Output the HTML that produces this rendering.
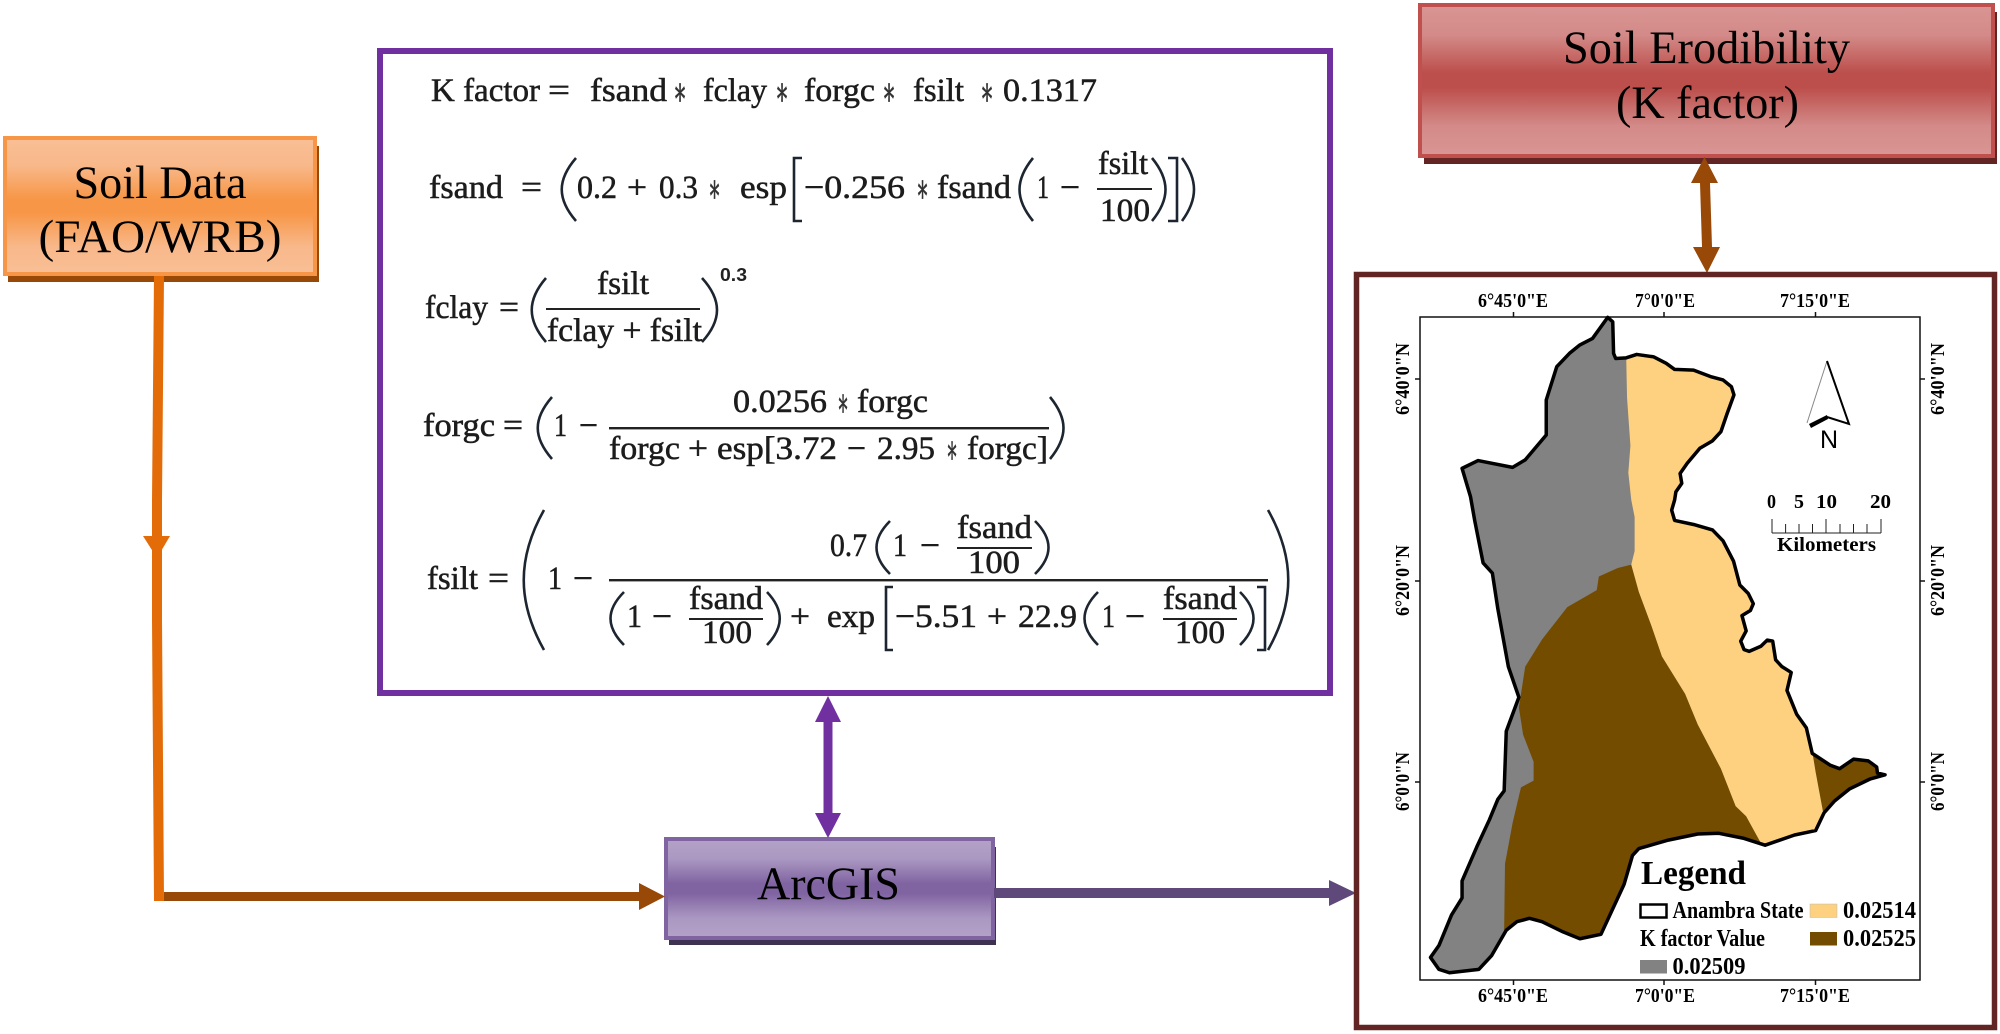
<!DOCTYPE html>
<html><head><meta charset="utf-8"><style>
html,body{margin:0;padding:0;background:#fff}
svg{display:block}
.b{font-family:"Liberation Serif",serif;font-size:47px;fill:#000;text-anchor:middle}
.f{font-family:"Liberation Serif","DejaVu Serif",serif;font-size:33px;fill:#1c1c1c;stroke:#1c1c1c;stroke-width:.55px}
.s{fill:#333;stroke:#333;font-size:40px;transform:translateY(4px)}
.d{fill:none;stroke:#1c2530;stroke-width:2.6}
.m{font-family:"Liberation Serif",serif;font-weight:bold;font-size:20px;fill:#000}
.l{font-family:"Liberation Serif",serif;font-weight:bold;font-size:24px;fill:#000}
</style></head><body>
<svg xmlns="http://www.w3.org/2000/svg" width="2000" height="1034" viewBox="0 0 2000 1034">
<defs>
<linearGradient id="go" x1="0" y1="0" x2="0" y2="1"><stop offset="0" stop-color="#f9bf95"/><stop offset=".2" stop-color="#f8b88a"/><stop offset=".45" stop-color="#f79646"/><stop offset=".55" stop-color="#f79646"/><stop offset=".8" stop-color="#f8b88a"/><stop offset="1" stop-color="#f9bf95"/></linearGradient>
<linearGradient id="gr" x1="0" y1="0" x2="0" y2="1"><stop offset="0" stop-color="#d99694"/><stop offset=".2" stop-color="#d38a88"/><stop offset=".45" stop-color="#bc4f4c"/><stop offset=".55" stop-color="#bc4f4c"/><stop offset=".8" stop-color="#d38a88"/><stop offset="1" stop-color="#d99694"/></linearGradient>
<linearGradient id="gp" x1="0" y1="0" x2="0" y2="1"><stop offset="0" stop-color="#b3a2c7"/><stop offset=".2" stop-color="#ab98c2"/><stop offset=".45" stop-color="#8064a2"/><stop offset=".55" stop-color="#8064a2"/><stop offset=".8" stop-color="#ab98c2"/><stop offset="1" stop-color="#b3a2c7"/></linearGradient>
<clipPath id="cp"><polygon points="636,-537 648,-524 650,-431 655,-416 680,-418 705,-428 745,-421 775,-402 795,-384 840,-382 880,-363 910,-353 930,-333 936,-309 920,-255 905,-201 885,-174 855,-152 825,-108 808,-78 812,-49 798,-24 795,0 788,30 795,60 840,72 885,88 910,120 935,180 950,250 970,275 982,305 975,325 955,340 965,385 952,415 960,440 972,445 1000,430 1015,412 1028,415 1035,470 1050,490 1072,507 1062,560 1085,630 1108,670 1122,745 1165,780 1187,790 1220,762 1255,767 1275,785 1277,803 1295,808 1260,820 1210,850 1175,885 1150,920 1130,972 1080,985 1010,1015 960,995 900,980 850,982 780,1000 710,1025 695,1045 675,1130 620,1277 570,1290 530,1270 480,1240 450,1230 420,1240 395,1265 360,1340 330,1380 260,1390 235,1380 215,1345 235,1310 265,1220 290,1170 290,1120 325,1020 355,940 375,880 390,855 395,680 425,580 400,490 375,320 362,215 340,185 320,60 310,-10 290,-93 328,-116 410,-96 440,-118 490,-191 490,-294 515,-392 545,-431 570,-456 600,-475"/></clipPath>
</defs>

<!-- Soil Data -->
<rect x="8" y="146" width="311" height="136" fill="#984807"/>
<rect x="5" y="138" width="310" height="136" fill="url(#go)" stroke="#f79646" stroke-width="4"/>
<text class="b" x="160" y="198" textLength="173" lengthAdjust="spacingAndGlyphs" style="text-anchor:start" transform="translate(-86.5,0)">Soil Data</text>
<text class="b" x="160" y="252" textLength="243" lengthAdjust="spacingAndGlyphs" style="text-anchor:start" transform="translate(-121.5,0)">(FAO/WRB)</text>

<!-- K factor box -->
<rect x="1424" y="12" width="573" height="152" fill="#632523"/>
<rect x="1420" y="5" width="573" height="151" fill="url(#gr)" stroke="#c0504d" stroke-width="4"/>
<text class="b" x="1563" y="63" textLength="287" lengthAdjust="spacingAndGlyphs" style="text-anchor:start">Soil Erodibility</text>
<text class="b" x="1616" y="118" textLength="183" lengthAdjust="spacingAndGlyphs" style="text-anchor:start">(K factor)</text>

<!-- ArcGIS box -->
<rect x="669" y="847" width="327" height="98" fill="#3f3151"/>
<rect x="666" y="839" width="327" height="99" fill="url(#gp)" stroke="#8064a2" stroke-width="4"/>
<text class="b" x="757" y="899" textLength="143" lengthAdjust="spacingAndGlyphs" style="text-anchor:start">ArcGIS</text>

<!-- Connectors -->
<polygon points="154,276 164,276 162,500 162,620 164,901 154,901 152,620 152,500" fill="#e36c09"/>
<polygon points="143,536 170,536 157,558" fill="#e36c09"/>
<rect x="164" y="892" width="476" height="9" fill="#984807"/>
<polygon points="639,883 665,896.5 639,910" fill="#984807"/>
<rect x="994" y="888" width="336" height="10" fill="#5f497a"/>
<polygon points="1329,880 1356,893 1329,906" fill="#5f497a"/>
<polygon points="828,696 841,722 832.5,722 832.5,813 841,813 828,838 815,813 823.5,813 823.5,722 815,722" fill="#7030a0"/>
<polygon points="1704.5,157 1718,183 1710,183 1712,247 1720,247 1707,273 1693,247 1702,247 1700,183 1691,183" fill="#984807"/>

<!-- Formula box -->
<rect x="380" y="51" width="950" height="642" fill="#fff" stroke="#7030a0" stroke-width="6"/>

<!-- Line 1 -->
<text class="f" x="431" y="101" textLength="109" lengthAdjust="spacingAndGlyphs">K factor</text>
<text class="f" x="548" y="101" textLength="22" lengthAdjust="spacingAndGlyphs">=</text>
<text class="f" x="590" y="101" textLength="77" lengthAdjust="spacingAndGlyphs">fsand</text>
<text class="f s" x="673" y="101" textLength="14" lengthAdjust="spacingAndGlyphs">∗</text>
<text class="f" x="703" y="101" textLength="64" lengthAdjust="spacingAndGlyphs">fclay</text>
<text class="f s" x="775" y="101" textLength="14" lengthAdjust="spacingAndGlyphs">∗</text>
<text class="f" x="804" y="101" textLength="71" lengthAdjust="spacingAndGlyphs">forgc</text>
<text class="f s" x="882" y="101" textLength="14" lengthAdjust="spacingAndGlyphs">∗</text>
<text class="f" x="913" y="101" textLength="51" lengthAdjust="spacingAndGlyphs">fsilt</text>
<text class="f s" x="980" y="101" textLength="14" lengthAdjust="spacingAndGlyphs">∗</text>
<text class="f" x="1003" y="101" textLength="94" lengthAdjust="spacingAndGlyphs">0.1317</text>

<!-- Line 2 -->
<text class="f" x="429" y="198" textLength="74" lengthAdjust="spacingAndGlyphs">fsand</text>
<text class="f" x="521" y="198" textLength="21" lengthAdjust="spacingAndGlyphs">=</text>
<text class="f" x="577" y="198" textLength="40" lengthAdjust="spacingAndGlyphs">0.2</text>
<text class="f" x="627" y="198" textLength="20" lengthAdjust="spacingAndGlyphs">+</text>
<text class="f" x="659" y="198" textLength="39" lengthAdjust="spacingAndGlyphs">0.3</text>
<text class="f s" x="708" y="198" textLength="13" lengthAdjust="spacingAndGlyphs">∗</text>
<text class="f" x="740" y="198" textLength="47" lengthAdjust="spacingAndGlyphs">esp</text>
<text class="f" x="804" y="198" textLength="101" lengthAdjust="spacingAndGlyphs">−0.256</text>
<text class="f s" x="916" y="198" textLength="13" lengthAdjust="spacingAndGlyphs">∗</text>
<text class="f" x="937" y="198" textLength="74" lengthAdjust="spacingAndGlyphs">fsand</text>
<text class="f" x="1037" y="198" textLength="12" lengthAdjust="spacingAndGlyphs">1</text>
<text class="f" x="1060" y="198" textLength="20" lengthAdjust="spacingAndGlyphs">−</text>
<text class="f" x="1098" y="174" textLength="50" lengthAdjust="spacingAndGlyphs">fsilt</text>
<rect x="1097" y="188" width="55" height="2" fill="#222"/>
<text class="f" x="1100" y="221" textLength="50" lengthAdjust="spacingAndGlyphs">100</text>
<path class="d" d="M576 158C557 180 557 199 576 221M1033 158C1015 180 1015 199 1033 221M1152 158C1170 180 1170 199 1152 221M1182 158C1198 180 1198 199 1182 221M802 158H794V221H802M1168 158H1177V221H1168"/>

<!-- Line 3 -->
<text class="f" x="425" y="318" textLength="63" lengthAdjust="spacingAndGlyphs">fclay</text>
<text class="f" x="499" y="318" textLength="20" lengthAdjust="spacingAndGlyphs">=</text>
<text class="f" x="597" y="294" textLength="52" lengthAdjust="spacingAndGlyphs">fsilt</text>
<rect x="546" y="308" width="154" height="2" fill="#222"/>
<text class="f" x="547" y="341" textLength="155" lengthAdjust="spacingAndGlyphs">fclay + fsilt</text>
<text x="720" y="281" textLength="27" lengthAdjust="spacingAndGlyphs" style="font-family:'Liberation Sans',sans-serif;font-size:18px;font-weight:bold;fill:#222">0.3</text>
<path class="d" d="M546 278C527 300 527 320 546 342M702 278C722 300 722 320 702 342"/>

<!-- Line 4 -->
<text class="f" x="423" y="436" textLength="72" lengthAdjust="spacingAndGlyphs">forgc</text>
<text class="f" x="503" y="436" textLength="20" lengthAdjust="spacingAndGlyphs">=</text>
<text class="f" x="554" y="436" textLength="13" lengthAdjust="spacingAndGlyphs">1</text>
<text class="f" x="579" y="436" textLength="19" lengthAdjust="spacingAndGlyphs">−</text>
<text class="f" x="733" y="412" textLength="94" lengthAdjust="spacingAndGlyphs">0.0256</text>
<text class="f s" x="837" y="412" textLength="12" lengthAdjust="spacingAndGlyphs">∗</text>
<text class="f" x="857" y="412" textLength="71" lengthAdjust="spacingAndGlyphs">forgc</text>
<rect x="609" y="427" width="440" height="2.4" fill="#222"/>
<text class="f" x="609" y="459" textLength="71" lengthAdjust="spacingAndGlyphs">forgc</text>
<text class="f" x="688" y="459" textLength="20" lengthAdjust="spacingAndGlyphs">+</text>
<text class="f" x="717" y="459" textLength="120" lengthAdjust="spacingAndGlyphs">esp[3.72</text>
<text class="f" x="847" y="459" textLength="19" lengthAdjust="spacingAndGlyphs">−</text>
<text class="f" x="877" y="459" textLength="58" lengthAdjust="spacingAndGlyphs">2.95</text>
<text class="f s" x="946" y="459" textLength="12" lengthAdjust="spacingAndGlyphs">∗</text>
<text class="f" x="967" y="459" textLength="81" lengthAdjust="spacingAndGlyphs">forgc]</text>
<path class="d" d="M552 397C533 419 533 437 552 459M1050 397C1068 419 1068 437 1050 459"/>

<!-- Line 5 -->
<text class="f" x="427" y="589" textLength="51" lengthAdjust="spacingAndGlyphs">fsilt</text>
<text class="f" x="488" y="589" textLength="21" lengthAdjust="spacingAndGlyphs">=</text>
<text class="f" x="548" y="589" textLength="14" lengthAdjust="spacingAndGlyphs">1</text>
<text class="f" x="573" y="589" textLength="20" lengthAdjust="spacingAndGlyphs">−</text>
<rect x="609" y="579" width="659" height="2.4" fill="#222"/>
<text class="f" x="830" y="556" textLength="37" lengthAdjust="spacingAndGlyphs">0.7</text>
<text class="f" x="893" y="556" textLength="14" lengthAdjust="spacingAndGlyphs">1</text>
<text class="f" x="920" y="556" textLength="20" lengthAdjust="spacingAndGlyphs">−</text>
<text class="f" x="957" y="538" textLength="75" lengthAdjust="spacingAndGlyphs">fsand</text>
<rect x="957" y="547" width="75" height="2" fill="#222"/>
<text class="f" x="968" y="573" textLength="52" lengthAdjust="spacingAndGlyphs">100</text>
<text class="f" x="627" y="627" textLength="15" lengthAdjust="spacingAndGlyphs">1</text>
<text class="f" x="652" y="627" textLength="20" lengthAdjust="spacingAndGlyphs">−</text>
<text class="f" x="689" y="609" textLength="74" lengthAdjust="spacingAndGlyphs">fsand</text>
<rect x="689" y="618" width="74" height="2" fill="#222"/>
<text class="f" x="702" y="643" textLength="50" lengthAdjust="spacingAndGlyphs">100</text>
<text class="f" x="790" y="627" textLength="20" lengthAdjust="spacingAndGlyphs">+</text>
<text class="f" x="827" y="627" textLength="48" lengthAdjust="spacingAndGlyphs">exp</text>
<text class="f" x="895" y="627" textLength="82" lengthAdjust="spacingAndGlyphs">−5.51</text>
<text class="f" x="987" y="627" textLength="20" lengthAdjust="spacingAndGlyphs">+</text>
<text class="f" x="1018" y="627" textLength="59" lengthAdjust="spacingAndGlyphs">22.9</text>
<text class="f" x="1102" y="627" textLength="13" lengthAdjust="spacingAndGlyphs">1</text>
<text class="f" x="1125" y="627" textLength="20" lengthAdjust="spacingAndGlyphs">−</text>
<text class="f" x="1163" y="609" textLength="74" lengthAdjust="spacingAndGlyphs">fsand</text>
<rect x="1163" y="618" width="74" height="2" fill="#222"/>
<text class="f" x="1175" y="643" textLength="50" lengthAdjust="spacingAndGlyphs">100</text>
<path class="d" d="M544 510C517 558 517 602 544 650M1268 510C1295 558 1295 602 1268 650M890 521C872 539 872 556 890 574M1035 521C1053 539 1053 556 1035 574M624 592C606 610 606 627 624 645M767 592C784 610 784 627 767 645M893 587H886V650H893M1098 592C1080 610 1080 627 1098 645M1240 592C1258 610 1258 627 1240 645M1257 587H1265V650H1257"/>

<!-- Map frame -->
<rect x="1356.5" y="274.5" width="638" height="753" fill="#fff" stroke="#632523" stroke-width="5.5"/>
<rect x="1420" y="317" width="500" height="663" fill="#fff" stroke="#111" stroke-width="1.5"/>
<path d="M1513.5 317V312M1664 317V312M1815.5 317V312M1513.5 980V985M1664 980V985M1815.5 980V985M1420 379H1415M1420 581H1415M1420 782H1415M1920 379H1925M1920 581H1925M1920 782H1925" stroke="#111" stroke-width="1.5"/>

<g>
<text class="m" x="1478" y="307" textLength="70" lengthAdjust="spacingAndGlyphs">6°45'0"E</text>
<text class="m" x="1635" y="307" textLength="60" lengthAdjust="spacingAndGlyphs">7°0'0"E</text>
<text class="m" x="1780" y="307" textLength="70" lengthAdjust="spacingAndGlyphs">7°15'0"E</text>
<text class="m" x="1478" y="1002" textLength="70" lengthAdjust="spacingAndGlyphs">6°45'0"E</text>
<text class="m" x="1635" y="1002" textLength="60" lengthAdjust="spacingAndGlyphs">7°0'0"E</text>
<text class="m" x="1780" y="1002" textLength="70" lengthAdjust="spacingAndGlyphs">7°15'0"E</text>
<text class="m" transform="translate(1409,415) rotate(-90)" textLength="72" lengthAdjust="spacingAndGlyphs">6°40'0"N</text>
<text class="m" transform="translate(1409,616) rotate(-90)" textLength="71" lengthAdjust="spacingAndGlyphs">6°20'0"N</text>
<text class="m" transform="translate(1409,811) rotate(-90)" textLength="59" lengthAdjust="spacingAndGlyphs">6°0'0"N</text>
<text class="m" transform="translate(1944,415) rotate(-90)" textLength="72" lengthAdjust="spacingAndGlyphs">6°40'0"N</text>
<text class="m" transform="translate(1944,616) rotate(-90)" textLength="71" lengthAdjust="spacingAndGlyphs">6°20'0"N</text>
<text class="m" transform="translate(1944,811) rotate(-90)" textLength="59" lengthAdjust="spacingAndGlyphs">6°0'0"N</text>
</g>

<!-- Map polygons -->
<g transform="translate(1340,500) scale(.4209,.3401)">
<g clip-path="url(#cp)">
<rect x="100" y="-600" width="1300" height="2100" fill="#828282"/>
<polygon fill="#734c00" points="692,190 660,200 615,225 610,265 540,315 480,410 440,490 425,610 435,690 460,770 460,825 430,845 410,950 392,1070 390,1265 420,1400 1100,1400 1050,1050 1005,1020 965,930 940,900 905,790 850,660 820,570 765,460 740,370 710,270"/>
<polygon fill="#734c00" points="1122,740 1400,700 1400,950 1148,920 1130,800"/>
<polygon fill="#fdd17f" points="680,-500 680,-420 682,-300 690,-160 685,-80 692,0 700,50 700,150 692,190 710,270 740,370 765,460 820,570 850,660 905,790 940,900 965,930 1005,1020 1150,1020 1148,920 1130,800 1122,740 1400,700 1400,-500"/>
</g>
<polygon fill="none" stroke="#000" stroke-width="3.5" stroke-linejoin="round" vector-effect="non-scaling-stroke" points="636,-537 648,-524 650,-431 655,-416 680,-418 705,-428 745,-421 775,-402 795,-384 840,-382 880,-363 910,-353 930,-333 936,-309 920,-255 905,-201 885,-174 855,-152 825,-108 808,-78 812,-49 798,-24 795,0 788,30 795,60 840,72 885,88 910,120 935,180 950,250 970,275 982,305 975,325 955,340 965,385 952,415 960,440 972,445 1000,430 1015,412 1028,415 1035,470 1050,490 1072,507 1062,560 1085,630 1108,670 1122,745 1165,780 1187,790 1220,762 1255,767 1275,785 1277,803 1295,808 1260,820 1210,850 1175,885 1150,920 1130,972 1080,985 1010,1015 960,995 900,980 850,982 780,1000 710,1025 695,1045 675,1130 620,1277 570,1290 530,1270 480,1240 450,1230 420,1240 395,1265 360,1340 330,1380 260,1390 235,1380 215,1345 235,1310 265,1220 290,1170 290,1120 325,1020 355,940 375,880 390,855 395,680 425,580 400,490 375,320 362,215 340,185 320,60 310,-10 290,-93 328,-116 410,-96 440,-118 490,-191 490,-294 515,-392 545,-431 570,-456 600,-475"/>
</g>

<!-- North arrow -->
<path d="M1827 361L1807 423" stroke="#888" stroke-width="1" fill="none"/>
<path d="M1827 361L1849 424L1827 417" stroke="#000" stroke-width="2" fill="none"/>
<path d="M1809 424L1827 415L1828 419L1811 428Z" fill="#000"/>
<text x="1829" y="448" style="font-family:'Liberation Sans',sans-serif;font-size:25px;fill:#000" text-anchor="middle">N</text>

<!-- Scale -->
<text class="m" x="1767" y="508" textLength="9" lengthAdjust="spacingAndGlyphs">0</text>
<text class="m" x="1794" y="508" textLength="10" lengthAdjust="spacingAndGlyphs">5</text>
<text class="m" x="1816" y="508" textLength="21" lengthAdjust="spacingAndGlyphs">10</text>
<text class="m" x="1870" y="508" textLength="21" lengthAdjust="spacingAndGlyphs">20</text>
<path d="M1772 533H1881M1772 519V533M1785.6 524V533M1799 524V533M1812.5 524V533M1826 519V533M1840 524V533M1853.5 524V533M1867 524V533M1881 519V533" stroke="#222" stroke-width="1" fill="none"/>
<text class="m" x="1777" y="551" textLength="99" lengthAdjust="spacingAndGlyphs">Kilometers</text>

<!-- Legend -->
<text x="1641" y="884" textLength="105" lengthAdjust="spacingAndGlyphs" style="font-family:'Liberation Serif',serif;font-weight:bold;font-size:34px;fill:#000">Legend</text>
<rect x="1640.5" y="904.5" width="26" height="13" fill="#fff" stroke="#000" stroke-width="2.5"/>
<text class="l" x="1672.5" y="918" textLength="131" lengthAdjust="spacingAndGlyphs">Anambra State</text>
<rect x="1810" y="904" width="27" height="13.5" fill="#fdd17f" stroke="#bbb" stroke-width=".5"/>
<text class="l" x="1843" y="918" textLength="73" lengthAdjust="spacingAndGlyphs">0.02514</text>
<text class="l" x="1640" y="946" textLength="125" lengthAdjust="spacingAndGlyphs">K factor Value</text>
<rect x="1810" y="932" width="27" height="13.5" fill="#734c00"/>
<text class="l" x="1843" y="946" textLength="73" lengthAdjust="spacingAndGlyphs">0.02525</text>
<rect x="1640" y="960" width="27" height="13.5" fill="#828282"/>
<text class="l" x="1672.5" y="974" textLength="73" lengthAdjust="spacingAndGlyphs">0.02509</text>
</svg>
</body></html>
